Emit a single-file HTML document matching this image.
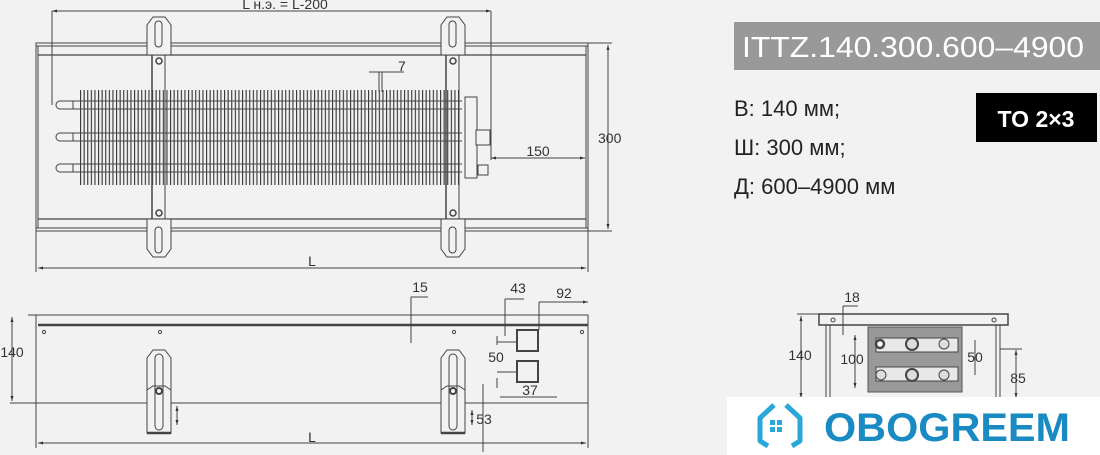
<!DOCTYPE html>
<html><head><meta charset="utf-8"><style>
html,body{margin:0;padding:0;background:#f2f2f2;}
body{width:1100px;height:455px;overflow:hidden;position:relative;font-family:"Liberation Sans",sans-serif;}
svg{position:absolute;left:0;top:0}
.t{font-family:"Liberation Sans",sans-serif;fill:#333;font-size:14px}
</style></head><body>
<svg width="1100" height="455" viewBox="0 0 1100 455">
<defs>
<pattern id="fins" x="80" y="0" width="3.6" height="10" patternUnits="userSpaceOnUse">
<rect x="0" y="0" width="1.1" height="10" fill="#333"/>
</pattern>
<marker id="a" viewBox="0 0 10 10" refX="10" refY="5" markerWidth="7" markerHeight="5" orient="auto-start-reverse"><path d="M0,2 L10,5 L0,8z" fill="#333"/></marker>
</defs>
<g stroke="#444" fill="none" stroke-width="1">
<rect x="36" y="43" width="552" height="188"/>
<line x1="36" y1="46" x2="588" y2="46"/>
<line x1="38" y1="55" x2="586" y2="55" stroke-width="1.3"/>
<line x1="38" y1="219" x2="586" y2="219" stroke-width="1.3"/>
<line x1="36" y1="228" x2="588" y2="228"/>
<line x1="38" y1="46" x2="38" y2="228"/>
<line x1="586" y1="46" x2="586" y2="228"/>
<rect x="80" y="90" width="379" height="95" fill="url(#fins)" stroke="none"/>
<g stroke-width="1">
<line x1="60" y1="101" x2="462" y2="101"/><line x1="60" y1="109" x2="462" y2="109"/>
<line x1="60" y1="133" x2="462" y2="133"/><line x1="60" y1="141" x2="462" y2="141"/>
<line x1="60" y1="164" x2="462" y2="164"/><line x1="60" y1="172" x2="462" y2="172"/>
<path d="M60,101 A4,4 0 0 0 60,109 M60,133 A4,4 0 0 0 60,141 M60,164 A4,4 0 0 0 60,172"/>
<line x1="73" y1="101" x2="73" y2="109"/><line x1="73" y1="133" x2="73" y2="141"/><line x1="73" y1="164" x2="73" y2="172"/>
</g>
<rect x="465" y="97" width="12" height="81" fill="#f2f2f2"/>
<rect x="476" y="130" width="14" height="15" fill="#f2f2f2"/>
<rect x="478" y="165" width="10" height="10" fill="#f2f2f2"/>
<g id="br">
<line x1="152" y1="55" x2="152" y2="219" stroke-width="1.5"/>
<line x1="165" y1="55" x2="165" y2="219"/>
<path d="M147,55 L147,25 L153,17 L165,17 L171,25 L171,55z" fill="#f2f2f2"/>
<rect x="155" y="21" width="7" height="26" rx="3.5"/>
<circle cx="159" cy="61" r="3" stroke-width="1.5"/>
<circle cx="159" cy="213" r="3" stroke-width="1.5"/>
<path d="M147,219 L147,249 L153,257 L165,257 L171,249 L171,219z" fill="#f2f2f2"/>
<rect x="155" y="227" width="7" height="26" rx="3.5"/>
</g>
<use href="#br" x="294"/>
<line x1="52" y1="11" x2="491" y2="11" marker-start="url(#a)" marker-end="url(#a)"/>
<line x1="52" y1="11" x2="52" y2="105"/>
<line x1="491" y1="11" x2="491" y2="160"/>
<line x1="491" y1="158" x2="585" y2="158" marker-start="url(#a)" marker-end="url(#a)"/>
<line x1="608" y1="45" x2="608" y2="229" marker-start="url(#a)" marker-end="url(#a)"/>
<line x1="588" y1="43" x2="612" y2="43"/><line x1="588" y1="231" x2="612" y2="231"/>
<line x1="38" y1="268" x2="586" y2="268" marker-start="url(#a)" marker-end="url(#a)"/>
<line x1="36" y1="231" x2="36" y2="272"/><line x1="588" y1="231" x2="588" y2="272"/>
<line x1="369" y1="72" x2="404" y2="72"/><line x1="379" y1="72" x2="379" y2="92"/><line x1="382" y1="72" x2="382" y2="92"/>

<rect x="36" y="315" width="552" height="88"/>
<line x1="38" y1="325" x2="588" y2="325" stroke-width="2.5"/>
<line x1="36" y1="403" x2="36" y2="448"/><line x1="588" y1="403" x2="588" y2="448"/>
<line x1="38" y1="443" x2="586" y2="443" marker-start="url(#a)" marker-end="url(#a)"/>
<g fill="#f2f2f2">
<circle cx="44" cy="332" r="1.6"/><circle cx="160" cy="332" r="1.6"/><circle cx="454" cy="332" r="1.6"/><circle cx="582" cy="332" r="1.6"/>
</g>
<g id="fb">
<path d="M147,433 L147,358 L153,350 L165,350 L171,358 L171,433z" fill="#f2f2f2"/>
<rect x="155" y="354" width="8" height="76" rx="4"/>
<path d="M147,390 L153,386 L165,386 L171,390" />
<circle cx="159" cy="391" r="3" stroke-width="2"/>
<line x1="147" y1="433" x2="171" y2="433" stroke-width="2.5"/>
</g>
<use href="#fb" x="294"/>
<line x1="177" y1="406" x2="177" y2="425" marker-start="url(#a)" marker-end="url(#a)"/>
<rect x="517" y="330" width="21" height="21" stroke-width="2"/>
<rect x="517" y="361" width="21" height="21" stroke-width="2"/>
<line x1="28" y1="315" x2="36" y2="315"/><line x1="10" y1="403" x2="36" y2="403"/>
<line x1="12" y1="317" x2="12" y2="401" marker-start="url(#a)" marker-end="url(#a)"/>
<line x1="411" y1="297" x2="411" y2="343"/><line x1="411" y1="297" x2="428" y2="297"/>
<line x1="505" y1="299" x2="505" y2="336"/><line x1="505" y1="299" x2="524" y2="299"/>
<line x1="539" y1="302" x2="539" y2="330"/><line x1="539" y1="302" x2="588" y2="302" marker-end="url(#a)"/>
<line x1="497" y1="342" x2="517" y2="342"/><line x1="497" y1="372" x2="517" y2="372"/>
<line x1="497" y1="336" x2="497" y2="345"/><line x1="497" y1="378" x2="497" y2="388"/>
<line x1="500" y1="397" x2="557" y2="397"/>
<line x1="483" y1="384" x2="483" y2="452"/>
<line x1="472" y1="410" x2="472" y2="425" marker-start="url(#a)" marker-end="url(#a)"/>

<rect x="819" y="314" width="189" height="11" stroke-width="1.5"/>
<circle cx="833" cy="320" r="2"/><circle cx="994" cy="320" r="2"/>
<line x1="826" y1="325" x2="826" y2="400"/><line x1="1000" y1="325" x2="1000" y2="400"/>
<line x1="830" y1="325" x2="830" y2="400"/><line x1="996" y1="325" x2="996" y2="400"/>
<rect x="868" y="327" width="94" height="65" fill="#999" stroke="#555"/>
<rect x="876" y="338" width="82" height="14" fill="#e8e8e8"/>
<rect x="876" y="367" width="82" height="14" fill="#e8e8e8"/>
<circle cx="880" cy="344" r="4" stroke-width="2.5" fill="#fff"/>
<circle cx="912" cy="344" r="6" fill="#ddd" stroke-width="2"/>
<circle cx="944" cy="344" r="5" fill="#ddd"/>
<circle cx="881" cy="375" r="5" fill="#ddd"/>
<circle cx="912" cy="375" r="6" fill="#ddd" stroke-width="2"/>
<circle cx="944" cy="375" r="5" fill="#ddd"/>
<line x1="801" y1="316" x2="801" y2="398" marker-start="url(#a)" marker-end="url(#a)"/>
<line x1="797" y1="314" x2="819" y2="314"/>
<line x1="843" y1="306" x2="843" y2="335"/><line x1="843" y1="306" x2="858" y2="306"/>
<line x1="855" y1="335" x2="855" y2="388" marker-start="url(#a)" marker-end="url(#a)"/>
<line x1="975" y1="340" x2="975" y2="375"/>
<line x1="1016" y1="350" x2="1016" y2="398" marker-start="url(#a)" marker-end="url(#a)"/>
<line x1="1000" y1="349" x2="1022" y2="349"/>
</g>
<g class="t">
<text x="285" y="9" text-anchor="middle">L н.э. = L-200</text>
<text x="398" y="71">7</text>
<text x="538" y="156" text-anchor="middle">150</text>
<text x="598" y="143">300</text>
<text x="312" y="266" text-anchor="middle">L</text>
<text x="420" y="292" text-anchor="middle">15</text>
<text x="518" y="293" text-anchor="middle">43</text>
<text x="564" y="298" text-anchor="middle">92</text>
<text x="496" y="362" text-anchor="middle">50</text>
<text x="530" y="395" text-anchor="middle">37</text>
<text x="484" y="424" text-anchor="middle">53</text>
<text x="12" y="357" text-anchor="middle">140</text>
<text x="312" y="442" text-anchor="middle">L</text>
<text x="852" y="302" text-anchor="middle">18</text>
<text x="800" y="360" text-anchor="middle">140</text>
<text x="852" y="364" text-anchor="middle">100</text>
<text x="975" y="362" text-anchor="middle">50</text>
<text x="1018" y="383" text-anchor="middle">85</text>
</g>
<rect x="734" y="22" width="366" height="48" fill="#999"/>
<text x="742" y="57" fill="#fff" font-size="29" font-family="Liberation Sans, sans-serif" textLength="342" lengthAdjust="spacingAndGlyphs">ITTZ.140.300.600–4900</text>
<g fill="#222" font-size="22" font-family="Liberation Sans, sans-serif">
<text x="734" y="116">В: 140 мм;</text>
<text x="734" y="155">Ш: 300 мм;</text>
<text x="734" y="194">Д: 600–4900 мм</text>
</g>
<rect x="976" y="93" width="121" height="49" fill="#000"/>
<text x="1036" y="127" fill="#fff" font-size="23" font-weight="bold" text-anchor="middle" font-family="Liberation Sans, sans-serif">TO 2×3</text>
<rect x="727" y="397" width="373" height="58" fill="#fff"/>
<g fill="none" stroke="#2aa7d9" stroke-width="5" stroke-linejoin="round">
<path d="M774,405 L760,418 L760,441 L768,446"/>
<path d="M786,405 L800,418 L800,441 L792,446"/>
</g>
<g fill="#2aa7d9"><rect x="770" y="420" width="5" height="5"/><rect x="777" y="420" width="5" height="5"/><rect x="770" y="427" width="5" height="5"/><rect x="777" y="427" width="5" height="5"/></g>
<text x="824" y="441" fill="#1a8ac2" font-size="40" font-weight="bold" font-family="Liberation Sans, sans-serif" textLength="246" lengthAdjust="spacingAndGlyphs">OBOGREEM</text>
</svg>
</body></html>
